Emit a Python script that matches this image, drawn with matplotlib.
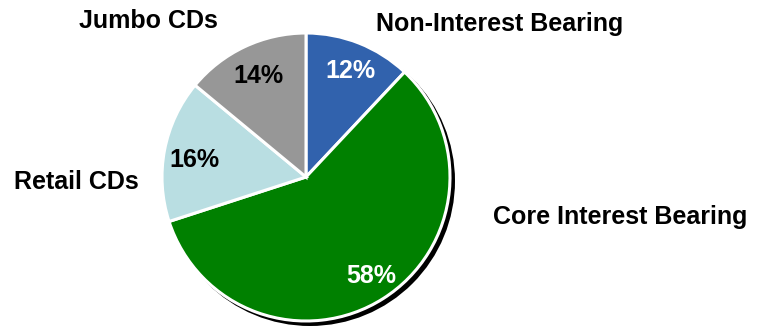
import matplotlib
matplotlib.use("Agg")
import matplotlib.pyplot as plt
from matplotlib.patches import Circle

categories = ["Non-Interest Bearing", "Core Interest Bearing", "Retail CDs", "Jumbo CDs"]
shares = [12, 58, 16, 14]
colors = ["#3162AD", "#008000", "#B9DEE2", "#979797"]
pct_colors = ["white", "white", "black", "black"]

W, H = 759, 326
fig = plt.figure(figsize=(W / 100, H / 100), dpi=100)
ax = fig.add_axes([0, 0, 1, 1])

cx, cy, r = 306, H - 177, 144

# drop shadow behind the pie
ax.add_patch(Circle((cx + 4, cy - 4), r + 1, facecolor="black", edgecolor="none", zorder=0))

wedges, _ = ax.pie(shares, colors=colors, startangle=90, counterclock=False,
                   center=(cx, cy), radius=r, frame=True,
                   wedgeprops=dict(edgecolor="white", linewidth=2.2))
ax.set_xlim(0, W)
ax.set_ylim(0, H)
ax.set_aspect("equal")
ax.axis("off")

font = dict(family=["Liberation Sans", "DejaVu Sans"], fontweight="bold")

# percentage labels (x centre, baseline y in pixels from top)
pct_pos = [(350, 78), (371, 283), (194, 167), (258, 83)]
for val, (x, y), c in zip(shares, pct_pos, pct_colors):
    ax.text(x, H - y, f"{val}%", ha="center", va="baseline", color=c, fontsize=18, **font)

# category labels (x centre, baseline y in pixels from top)
label_pos = [(500, 31), (620, 224), (76, 189), (148, 28)]
for name, (x, y) in zip(categories, label_pos):
    ax.text(x, H - y, name, ha="center", va="baseline", color="black", fontsize=18, **font)

fig.savefig("out.png", dpi=100)
